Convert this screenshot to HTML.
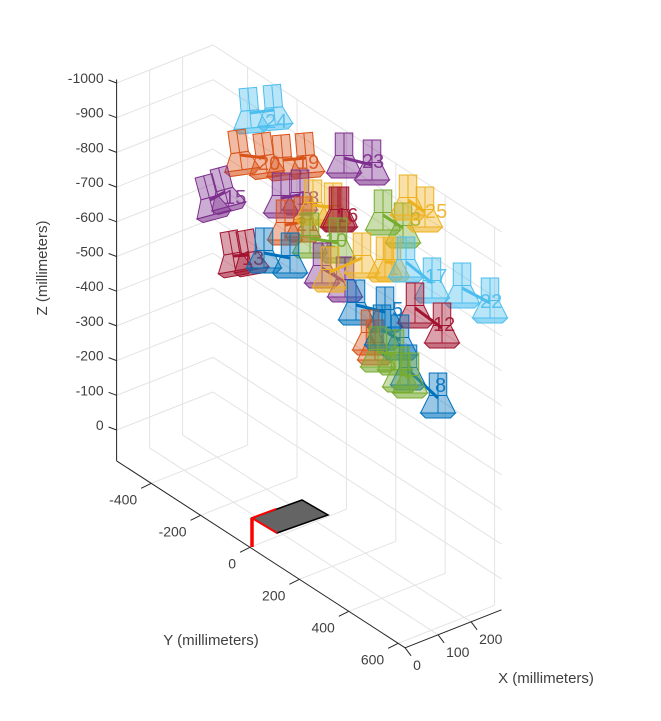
<!DOCTYPE html>
<html><head><meta charset="utf-8"><style>
body{margin:0;background:#fff;}
svg text{font-family:"Liberation Sans",sans-serif;fill:#404040;}
</style></head><body>
<svg id="s" width="661" height="716" xmlns="http://www.w3.org/2000/svg"></svg>
<script>
const s=document.getElementById('s');
const O=[250,516.4],KX=[0.33,-0.13],KY=[0.247,0.16],KZ=0.347;
const XL=[0,292],YL=[-540,628],ZL=[-1000,89];
function P(x,y,z){return [O[0]+KX[0]*x+KY[0]*y, O[1]+KX[1]*x+KY[1]*y+KZ*z];}
let h='';
function line(a,b,c,w){h+=`<line x1="${a[0].toFixed(1)}" y1="${a[1].toFixed(1)}" x2="${b[0].toFixed(1)}" y2="${b[1].toFixed(1)}" stroke="${c}" stroke-width="${w}"/>`;}
const G='#e3e3e3';
const Xt=[0,100,200],Yt=[-400,-200,0,200,400,600],Zt=[];for(let z=-1000;z<=0;z+=100)Zt.push(z);
for(const x of Xt){line(P(x,YL[0],ZL[0]),P(x,YL[0],ZL[1]),G,1);}
for(const z of Zt){line(P(XL[0],YL[0],z),P(XL[1],YL[0],z),G,1);}
for(const y of Yt){line(P(XL[1],y,ZL[0]),P(XL[1],y,ZL[1]),G,1);}
for(const z of Zt){line(P(XL[1],YL[0],z),P(XL[1],YL[1],z),G,1);}
for(const x of Xt){line(P(x,YL[0],ZL[1]),P(x,YL[1],ZL[1]),G,1);}
for(const y of Yt){line(P(XL[0],y,ZL[1]),P(XL[1],y,ZL[1]),G,1);}
line(P(0,YL[0],ZL[0]-10),P(0,YL[0],ZL[1]),'#262626',1);
line(P(0,YL[0],ZL[1]),P(0,YL[1],ZL[1]),'#262626',1);
line(P(0,YL[1],ZL[1]),P(XL[1],YL[1],ZL[1]),'#262626',1);
for(const z of Zt){const p=P(0,YL[0],z);line([p[0]-8,p[1]-3],p,'#262626',1);
 h+=`<text x="${p[0]-13}" y="${p[1]-0}" font-size="14" text-anchor="end">${z}</text>`;}
for(const y of Yt){const p=P(0,y,ZL[1]);line([p[0]-10,p[1]+5],p,'#262626',1);
 h+=`<text x="${p[0]-14}" y="${p[1]+21}" font-size="14" text-anchor="end">${y}</text>`;}
for(const x of Xt){const p=P(x,YL[1],ZL[1]);line([p[0]+6,p[1]+8],p,'#262626',1);
 h+=`<text x="${p[0]+8}" y="${p[1]+22}" font-size="14" text-anchor="start">${x}</text>`;}
h+=`<text x="0" y="0" font-size="15" text-anchor="middle" transform="translate(47,268) rotate(-90)">Z (millimeters)</text>`;
h+=`<text x="211" y="645" font-size="15" text-anchor="middle">Y (millimeters)</text>`;
h+=`<text x="546" y="683" font-size="15" text-anchor="middle">X (millimeters)</text>`;
h+=`<polygon points="252,518 302,500 328,515 277,533" fill="#646464" stroke="#000" stroke-width="1.5"/>`;
line([252,518],[277,533],'red',2);line([252,518],[276,509],'red',2);line([252,518],[252,547],'red',3.5);
const C={lb:'#4DBEEE',or:'#D95319',pu:'#7E2F8E',ye:'#EDB120',dr:'#A2142F',gr:'#77AC30',bl:'#0072BD'};
function cam(x,y,c,r){r=r||0;
 h+=`<g transform="translate(${x},${y}) rotate(${r}) scale(1.25)" stroke="${c}" stroke-width="0.8" fill="${c}" fill-opacity="0.4">
 <rect x="-7" y="-20" width="14" height="18"/><polygon points="-7,-2 7,-2 14,12 -14,12"/><polygon points="-14,12 14,12 10,16 -10,16" fill-opacity="0.6"/><line x1="0" y1="-20" x2="0" y2="12"/></g>`;}
function pair(a,b,c,lab,lx,ly,r){cam(a[0],a[1],c,r);cam(b[0],b[1],c,r);line(a,b,c,3);
 if(lab)h+=`<text x="${lx}" y="${ly}" font-size="20" style="fill:${c}" fill-opacity="0.9">${lab}</text>`;}
pair([250,113],[274,110],C.lb,'24',265,128,-5);
pair([240,155],[265,158],C.or,'20',258,170,-8);
pair([283,160],[306,158],C.or,'19',297,169,-5);
pair([344,158],[372,165],C.pu,'23',362,168,0);
pair([210,200],[225,192],C.pu,'15',224,204,-15);
pair([281,198],[300,195],C.pu,'18',297,205,0);
pair([285,225],[303,222],C.or,'21',296,231,0);
pair([313,205],[333,208],C.ye,'',0,0,0);
pair([340,212],[338,212],C.dr,'16',336,222,0);
pair([383,215],[403,228],C.gr,'3',410,226,0);
pair([408,200],[425,212],C.ye,'25',425,218,0);
pair([310,238],[338,243],C.gr,'10',325,247,0);
pair([233,256],[249,255],C.dr,'13',242,265,-10);
pair([264,253],[290,258],C.bl,'',0,0,0);
pair([322,268],[345,282],C.pu,'',0,0,0);
pair([330,272],[362,258],C.ye,'',0,0,0);
pair([392,262],[385,262],C.ye,'1',388,275,0);
pair([406,262],[432,283],C.lb,'17',425,283,0);
pair([462,288],[490,303],C.lb,'22',480,308,0);
pair([356,305],[385,312],C.bl,'5',392,316,0);
pair([415,308],[442,328],C.dr,'12',433,331,0);
pair([370,335],[375,345],C.or,'',0,0,0);
pair([382,330],[400,340],C.bl,'',0,0,0);
pair([378,352],[395,355],C.gr,'',0,0,0);
pair([408,370],[438,398],C.bl,'8',435,392,0);
pair([400,372],[410,378],C.gr,'',0,0,0);
s.innerHTML=h;
</script>
</body></html>
